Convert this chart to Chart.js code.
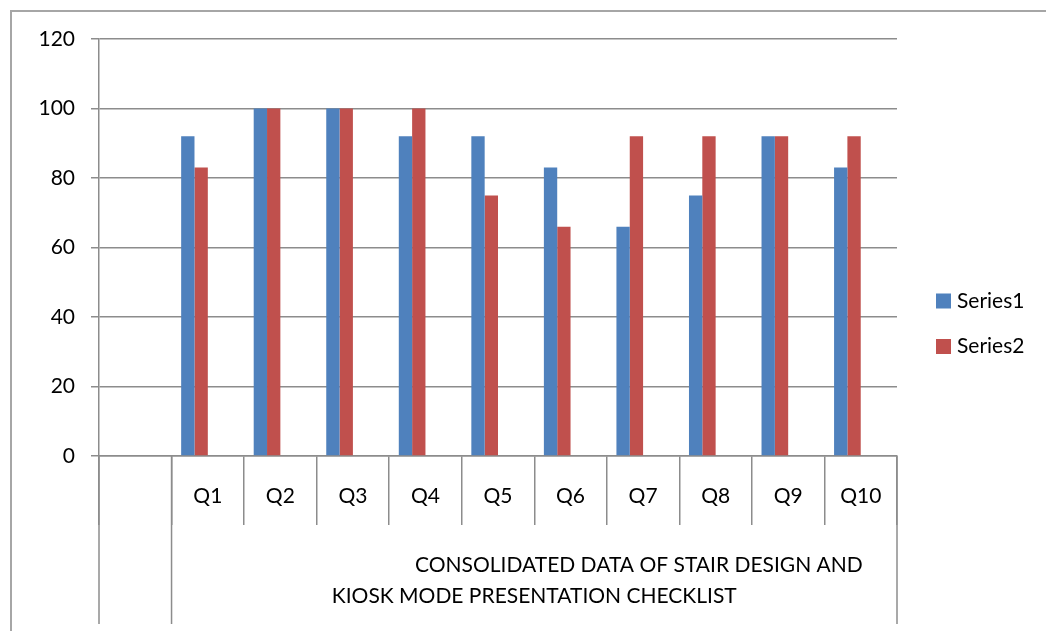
<!DOCTYPE html>
<html>
<head>
<meta charset="utf-8">
<script src="https://cdn.jsdelivr.net/npm/chart.js@4"></script>
<style>
    html, body { margin: 0; padding: 0; background: #fff; }
    #wrap { width: 1046px; height: 631px; position: relative; }
</style>
</head>
<body>
<div id="wrap"><canvas id="chart" width="1046" height="631"></canvas></div>
<script>
// Chart data
const categories = ['', 'Q1', 'Q2', 'Q3', 'Q4', 'Q5', 'Q6', 'Q7', 'Q8', 'Q9', 'Q10'];
const series1 = [null, 92, 100, 100, 92, 92, 83, 66, 75, 92, 83];
const series2 = [null, 83, 100, 100, 100, 75, 66, 92, 92, 92, 92];
const yTicks = [0, 20, 40, 60, 80, 100, 120];
const groupTitle = ['CONSOLIDATED DATA OF STAIR DESIGN AND', 'KIOSK MODE PRESENTATION CHECKLIST'];

const FONT = 'Lato, "Noto Sans", sans-serif';
const LINE = '#8c8c8c';

// Draws the category labels, the outer group level, the frame and the legend
const excelAxisPlugin = {
    id: 'excelAxis',
    afterDraw(chart) {
        const ctx = chart.ctx;
        const x = chart.scales.x;
        const bottom = x.bottom;
        const axisY = x.top;
        const half = (x.getPixelForValue(1) - x.getPixelForValue(0)) / 2;

        ctx.save();
        // frame
        ctx.strokeStyle = '#a6a6a6';
        ctx.lineWidth = 2;
        ctx.beginPath();
        ctx.moveTo(11, 631);
        ctx.lineTo(11, 11);
        ctx.lineTo(1046, 11);
        ctx.stroke();

        // category labels
        ctx.fillStyle = '#000';
        ctx.font = '21px ' + FONT;
        ctx.textAlign = 'center';
        ctx.textBaseline = 'middle';
        categories.forEach((c, i) => {
            ctx.fillText(c, x.getPixelForValue(i), axisY + 40);
        });

        // long separators of the outer level
        ctx.strokeStyle = LINE;
        ctx.lineWidth = 1.5;
        const longs = [0, 1, categories.length];
        longs.forEach(i => {
            const px = x.getPixelForValue(i) - half;
            ctx.beginPath();
            ctx.moveTo(px, axisY);
            ctx.lineTo(px, bottom - 7);
            ctx.stroke();
        });

        // outer group title
        const left = x.getPixelForValue(1) - half;
        const right = x.getPixelForValue(categories.length - 1) + half;
        const mid = (left + right) / 2;
        ctx.font = '21px ' + FONT;
        ctx.textAlign = 'left';
        ctx.fillText(groupTitle[0], 415, axisY + 109);
        ctx.textAlign = 'center';
        ctx.fillText(groupTitle[1], mid, axisY + 140);

        // legend
        const items = chart.data.datasets.filter(d => d.label);
        items.forEach((d, i) => {
            const cy = 301 + i * 45.5;
            ctx.fillStyle = d.backgroundColor;
            ctx.fillRect(936, cy - 7.5, 15, 15);
            ctx.fillStyle = '#000';
            ctx.font = '21px ' + FONT;
            ctx.textAlign = 'left';
            ctx.fillText(d.label, 957, cy);
        });
        ctx.restore();
    }
};

const ctx = document.getElementById('chart').getContext('2d');
new Chart(ctx, {
    type: 'bar',
    data: {
        labels: categories,
        datasets: [{
            label: 'Series1',
            data: series1,
            backgroundColor: '#4f81bd'
        }, {
            label: 'Series2',
            data: series2,
            backgroundColor: '#c0504d'
        }, {
            // empty series kept from the original sheet, they only take room
            label: '',
            data: [],
            backgroundColor: 'rgba(0,0,0,0)'
        }, {
            label: '',
            data: [],
            backgroundColor: 'rgba(0,0,0,0)'
        }]
    },
    options: {
        responsive: false,
        animation: false,
        events: [],
        categoryPercentage: 0.735,
        barPercentage: 1,
        layout: {
            padding: { top: 39, right: 149, bottom: 0, left: 0 }
        },
        plugins: {
            legend: { display: false },
            tooltip: { enabled: false }
        },
        scales: {
            x: {
                offset: true,
                grid: {
                    offset: true,
                    drawOnChartArea: false,
                    tickLength: 69,
                    color: LINE,
                    lineWidth: 1.5
                },
                border: { color: LINE, width: 1.5 },
                ticks: { display: false },
                afterFit(scale) { scale.height = 175; }
            },
            y: {
                min: 0,
                max: 120,
                afterBuildTicks(scale) {
                    scale.ticks = yTicks.map(v => ({ value: v }));
                },
                grid: {
                    color: LINE,
                    lineWidth: 1.5,
                    tickLength: 8
                },
                border: { color: LINE, width: 1.5 },
                ticks: {
                    color: '#000',
                    padding: 16,
                    font: { family: FONT, size: 21 }
                },
                afterFit(scale) { scale.width = 99; }
            }
        }
    },
    plugins: [excelAxisPlugin]
});
</script>
</body>
</html>
